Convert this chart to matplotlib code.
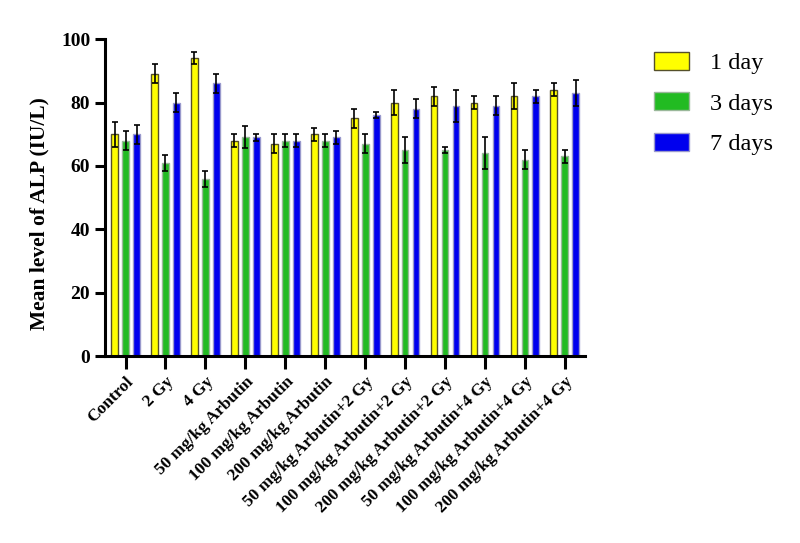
import numpy as np
import matplotlib.pyplot as plt

plt.rcParams['font.family'] = ['Liberation Serif', 'DejaVu Serif']

groups = ['Control', '2 Gy', '4 Gy', '50 mg/kg Arbutin', '100 mg/kg Arbutin',
          '200 mg/kg Arbutin', '50 mg/kg Arbutin+2 Gy', '100 mg/kg Arbutin+2 Gy',
          '200 mg/kg Arbutin+2 Gy', '50 mg/kg Arbutin+4 Gy', '100 mg/kg Arbutin+4 Gy',
          '200 mg/kg Arbutin+4 Gy']

day1 = [70, 89, 94, 68, 67, 70, 75, 80, 82, 80, 82, 84]
day1_err = [4, 3, 2, 2, 3, 2, 3, 4, 3, 2, 4, 2]
day3 = [68, 61, 56, 69, 68, 68, 67, 65, 65, 64, 62, 63]
day3_err = [3, 2.5, 2.5, 3.5, 2, 2, 3, 4, 1, 5, 3, 2]
day7 = [70, 80, 86, 69, 68, 69, 76, 78, 79, 79, 82, 83]
day7_err = [3, 3, 3, 1, 2, 2, 1, 3, 5, 3, 2, 4]

x = np.arange(len(groups))
w = 0.17
off = 0.275

fig = plt.figure(figsize=(8, 5.43), dpi=100)
ax = fig.add_axes([0.131, 0.344, 0.6, 0.584])

ekw = dict(ecolor='black', elinewidth=1.2, capsize=2, capthick=1.2)
ax.bar(x - off, day1, w, yerr=day1_err, color='#ffff00', edgecolor='#55502a',
       linewidth=1, label='1 day', error_kw=ekw)
ax.bar(x, day3, w, yerr=day3_err, color='#22bb22', edgecolor='#9ab89a',
       linewidth=1, label='3 days', error_kw=ekw)
ax.bar(x + off, day7, w, yerr=day7_err, color='#0000ee', edgecolor='#9999cc',
       linewidth=1, label='7 days', error_kw=ekw)

ax.set_xlim(-0.52, 11.5)
ax.set_ylim(0, 100)
ax.set_yticks([0, 20, 40, 60, 80, 100])
ax.set_xticks(x)
ax.set_xticklabels(groups, rotation=45, ha='right', rotation_mode='anchor',
                   fontsize=12.5, fontweight='bold')
for t in ax.get_yticklabels():
    t.set_fontsize(14)
    t.set_fontweight('bold')
ax.set_ylabel('Mean level of ALP (IU/L)', fontsize=15.5, fontweight='bold')
ax.yaxis.set_label_coords(-0.115, 0.45)

for s in ['top', 'right']:
    ax.spines[s].set_visible(False)
for s in ['left', 'bottom']:
    ax.spines[s].set_linewidth(2.2)
ax.tick_params(axis='y', length=7, width=2.2)
ax.tick_params(axis='x', length=9, width=2.2)

fig.legend(loc='upper left', bbox_to_anchor=(0.79, 0.945), frameon=False,
           fontsize=17.5, handlelength=1.45, handleheight=0.75, labelspacing=0.75,
           handletextpad=0.85)

fig.savefig('out.png', dpi=100)
